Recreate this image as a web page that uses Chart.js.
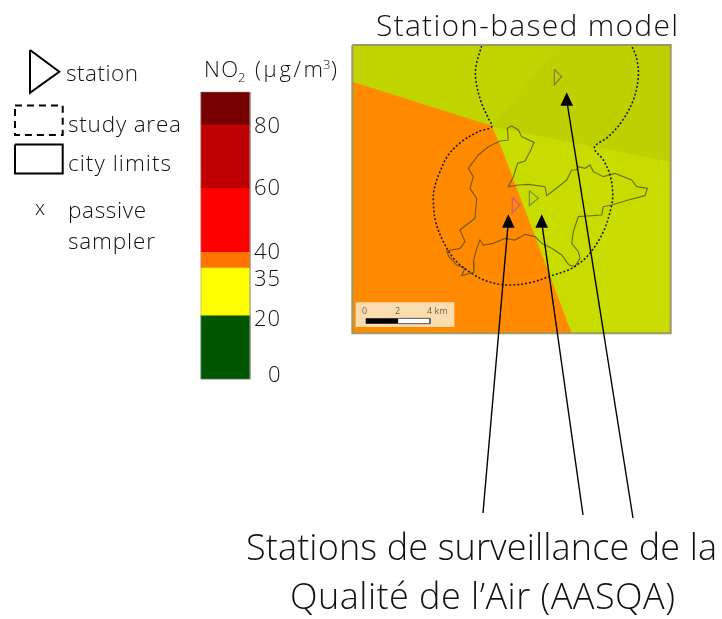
<!DOCTYPE html>
<html><head><meta charset="utf-8">
<style>html,body{margin:0;padding:0;background:#fff}#w{position:relative;width:722px;height:619px}</style>
<script src="https://cdn.jsdelivr.net/npm/chart.js@4/dist/chart.umd.min.js"></script>
</head><body><div id="w"><canvas id="c" width="722" height="619"></canvas></div>
<script>
// Colour scale
const bandLow   = [0, 20, 35, 40, 60, 80];
const bandHigh  = [20, 35, 40, 60, 80, 90];
const bandColor = ['#005500', '#ffff00', '#ff7500', '#ff0000', '#bf0000', '#760000'];

// Map geometry, traced in map units
const frame = [[22,30],[977,30],[977,895],[22,895]];
const zoneOrange = [[22,140],[440,272],[470,340],[680,895],[22,895]];
const zoneNorth = [[22,30],[977,30],[977,380],[440,272],[22,140]];
const zoneNorthEast = [[440,275],[977,380],[977,30],[640,30]];
const cityLimits = [[465,318],[490,315],[487,280],[500,273],[520,285],[530,305],[567,322],[555,350],[540,378],[518,385],[505,425],[490,455],[520,450],[550,448],[600,455],[605,482],[640,455],[665,435],[680,405],[695,405],[700,395],[720,400],[735,390],[745,410],[775,425],[810,415],[860,435],[875,455],[907,460],[900,482],[850,495],[800,510],[775,515],[770,540],[700,545],[685,590],[680,625],[700,650],[705,670],[690,695],[672,690],[650,660],[620,640],[590,625],[570,605],[540,598],[510,615],[480,610],[445,625],[415,630],[405,615],[395,640],[385,680],[387,712],[350,722],[360,700],[335,690],[312,665],[305,648],[345,640],[360,620],[345,585],[390,550],[395,490],[375,460],[385,425],[370,400],[400,360],[430,335],[465,318]];
const studyArea = [[410,32],[392,100],[395,150],[410,205],[430,250],[440,275],[400,290],[350,320],[310,360],[285,410],[268,460],[265,500],[272,560],[295,620],[330,675],[380,715],[430,740],[490,750],[560,742],[620,722],[680,700],[730,660],[775,590],[800,510],[803,470],[795,420],[775,375],[748,338],[790,305],[830,260],[865,195],[880,125],[875,70],[860,32]];
const stationA = [[628,103],[650,125],[628,150],[628,103]];
const stationB = [[553,467],[580,490],[553,512],[553,467]];
const stationC = [[502,487],[525,510],[502,533],[502,487]];
const scaleBox = [[32,802],[328,802],[328,876],[32,876]];
const scaleBlack = [[62,850],[160,850],[160,866],[62,866]];
const scaleWhite = [[160,850],[255,850],[255,866],[160,866]];

// Arrows and legend, in page units
const arrowLines = [[[483,513],[508.3,222]],[[583,515],[541.7,222]],[[633,518],[566.7,100]]];
const arrowTips = [[[508.3,214.3],[502,227.7],[514.6,227.7]],[[541.7,214.3],[535.4,227.7],[548,227.7]],[[566.7,92.3],[560.4,105.7],[573,105.7]]];
const legendTriangle = [[30,50],[59.3,71.7],[30,92.7],[30,50]];
const legendDashed = [[15,105.5],[62.7,105.5],[62.7,135],[15,135],[15,105.5]];
const legendSolid = [[15,144.5],[62.7,144.5],[62.7,173.5],[15,173.5],[15,144.5]];
const barOutline = [[201,92],[250,92],[250,379],[201,379],[201,92]];

const FONT = '"Open Sans", "Noto Sans", sans-serif';
const W = 300;
const texts = [
  ['Station-based model', 376, 36, 30, 678],
  ['station', 66, 81, 22.5, 138],
  ['study area', 68, 132, 22.5, 181],
  ['city limits', 68, 171, 22.5, 171],
  ['x', 35, 215, 20, 45],
  ['passive', 68, 218, 22.5, 146],
  ['sampler', 68, 249, 22.5, 155],
  ['80', 254, 133, 22, 280],
  ['60', 254, 195, 22, 280],
  ['40', 254, 259, 22, 280],
  ['35', 254, 286, 22, 280],
  ['20', 254, 326, 22, 280],
  ['0', 268, 382, 22, 280],
  ['Stations de surveillance de la', 246, 560, 36, 717],
  ['Qualité de l’Air (AASQA)', 290, 609, 36, 675],
  ['NO', 204, 77, 22, 238],
  ['2', 238, 82, 13, 248],
  ['(µg/m', 255, 77, 22, 323],
  ['3', 323, 69, 13, 331],
  [')', 331, 77, 22, 338]
];
const scaleTexts = [['0', 362, 314, 9],['2', 395, 314, 9],['4 km', 427, 314, 9]];

const mapPt = ([x, y]) => ({x: 345 + x / 3, y: 35 + y / 3});
const pagePt = ([x, y]) => ({x, y});
const shape = (pts, fillCol, line, extra) => Object.assign({
  type: 'scatter', data: pts, showLine: true, pointRadius: 0, tension: 0,
  fill: fillCol ? 'shape' : false, backgroundColor: fillCol || 'transparent',
  borderColor: line || 'transparent', borderWidth: line ? 1 : 0, xAxisID: 'x', yAxisID: 'y', order: 5
}, extra || {});

const datasets = [];
// map, blurred like the scanned raster
datasets.push(shape(frame.map(mapPt), '#c9dc00', null, {order: 20}));
datasets.push(shape(zoneNorth.map(mapPt), '#c0d400', null, {order: 19}));
datasets.push(shape(zoneNorthEast.map(mapPt), '#bed100', null, {order: 18}));
datasets.push(shape(zoneOrange.map(mapPt), '#ff8a00', null, {order: 17}));
datasets.push(shape(cityLimits.map(mapPt), null, 'rgba(70,70,20,0.7)', {order: 16, borderWidth: 1.2}));
datasets.push(shape(studyArea.map(mapPt), null, 'rgba(20,20,20,0.95)', {order: 15, borderWidth: 1.6, borderDash: [2, 2], tension: 0.35}));
datasets.push(shape(stationA.map(mapPt), null, 'rgba(110,120,70,0.9)', {order: 14, borderWidth: 1.2}));
datasets.push(shape(stationB.map(mapPt), null, 'rgba(105,135,70,0.9)', {order: 13, borderWidth: 1.2}));
datasets.push(shape(stationC.map(mapPt), null, 'rgba(205,90,130,0.9)', {order: 12, borderWidth: 1.4}));
datasets.push(shape(scaleBox.map(mapPt), '#fcddb0', null, {order: 11}));
datasets.push(shape(scaleBlack.map(mapPt), '#000000', null, {order: 10}));
datasets.push(shape(scaleWhite.map(mapPt), '#ffffff', '#555555', {order: 9}));
const LAST_MAP_ORDER = 9;
datasets.push(shape(frame.concat([frame[0]]).map(mapPt), null, '#9a9a66', {order: 8.5, borderWidth: 2}));
// colour scale
datasets.push({type: 'bar', xAxisID: 'x', yAxisID: 'cb', order: 4, barThickness: 49,
  data: bandLow.map((lo, i) => ({x: 225.5, y: [lo, bandHigh[i]]})),
  backgroundColor: bandColor, borderWidth: 0});
datasets.push(shape(barOutline.map(pagePt), null, 'rgba(150,150,150,0.5)', {order: 3.5, borderWidth: 1}));
// legend and arrows
datasets.push(shape(legendTriangle.map(pagePt), null, '#000', {order: 3, borderWidth: 2}));
datasets.push(shape(legendDashed.map(pagePt), null, '#000', {order: 3, borderWidth: 2, borderDash: [7, 5]}));
datasets.push(shape(legendSolid.map(pagePt), null, '#000', {order: 3, borderWidth: 2}));
arrowLines.forEach(a => datasets.push(shape(a.map(pagePt), null, '#000', {order: 2, borderWidth: 1.4})));
arrowTips.forEach(a => datasets.push(shape(a.map(pagePt), '#000', null, {order: 1})));

const textPlugin = {
  id: 'txt',
  beforeDatasetsDraw(chart) { chart.ctx.filter = 'blur(0.5px)'; },
  afterDatasetDraw(chart, args) {
    if (args.meta.order === 8.5) chart.ctx.filter = 'none';
    if (args.meta.order === LAST_MAP_ORDER) {
      const ctx = chart.ctx, sx = chart.scales.x, sy = chart.scales.y;
      ctx.save(); ctx.fillStyle = 'rgba(90,80,50,0.85)';
      scaleTexts.forEach(([s, x, y, sz]) => { ctx.font = `${sz}px ${FONT}`; ctx.fillText(s, sx.getPixelForValue(x), sy.getPixelForValue(y)); });
      ctx.restore();
    }
  },
  afterDraw(chart) {
    const ctx = chart.ctx, sx = chart.scales.x, sy = chart.scales.y;
    ctx.save(); ctx.fillStyle = '#111'; ctx.textBaseline = 'alphabetic'; ctx.filter = 'none';
    texts.forEach(([s, x, y, sz, xEnd]) => {
      ctx.font = `${W} ${sz}px ${FONT}`;
      const n = s.length - 1;
      const width = ctx.measureText(s).width;
      ctx.letterSpacing = (n > 0 ? (xEnd - x - width) / n : 0).toFixed(2) + 'px';
      ctx.fillText(s, sx.getPixelForValue(x), sy.getPixelForValue(y));
      ctx.letterSpacing = '0px';
    });
    ctx.restore();
  }
};

new Chart(document.getElementById('c'), {
  type: 'scatter',
  data: {datasets},
  options: {
    responsive: false, animation: false, events: [],
    layout: {padding: 0},
    plugins: {legend: {display: false}, tooltip: {enabled: false}, title: {display: false}},
    scales: {
      x: {type: 'linear', min: 0, max: 722, display: false, offset: false},
      y: {type: 'linear', min: 0, max: 619, reverse: true, display: false},
      cb: {type: 'linear', min: -75.33, max: 118.96, display: false, position: 'right'}
    }
  },
  plugins: [textPlugin]
});
</script></body></html>
